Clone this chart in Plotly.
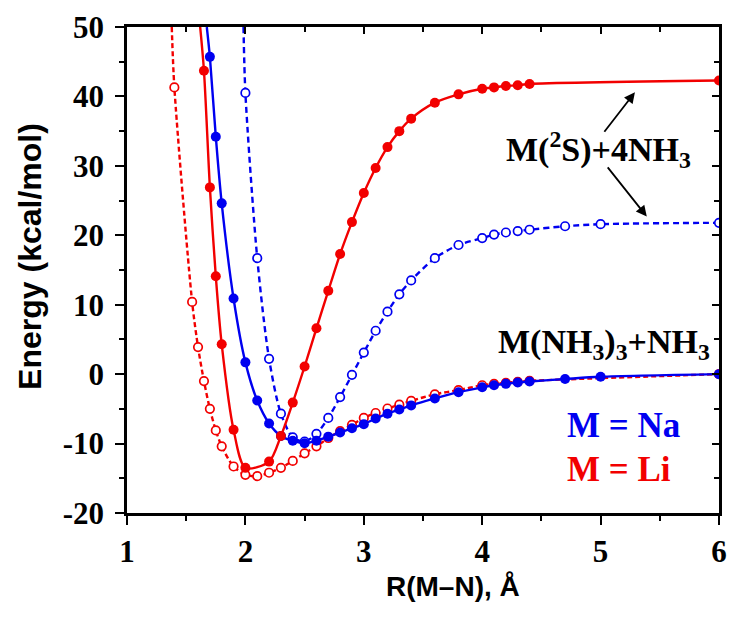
import plotly.graph_objects as go

# ---------------- data ----------------
# Li, solid line / filled markers  -> M(2S)+4NH3 (~42)
li_s_x = [1.65, 1.7, 1.75, 1.8, 1.9, 2.0, 2.2, 2.3, 2.4, 2.5, 2.6, 2.7, 2.8, 2.9,
          3.0, 3.1, 3.2, 3.3, 3.4, 3.6, 3.8, 4.0, 4.1, 4.2, 4.3, 4.4, 6.0]
li_s_y = [43.7, 26.9, 14.1, 4.3, -8.0, -13.5, -12.6, -8.9, -4.1, 1.1, 6.6, 12.0, 17.3, 21.9,
          26.1, 29.7, 32.7, 35.0, 36.8, 39.1, 40.3, 41.1, 41.3, 41.5, 41.6, 41.8, 42.3]

# Li, dashed line / open markers -> M(NH3)3+NH3 (0)
li_d_x = [1.4, 1.55, 1.6, 1.65, 1.7, 1.75, 1.8, 1.9, 2.0, 2.1, 2.2, 2.3, 2.4, 2.5, 2.6,
          2.7, 2.8, 2.9, 3.0, 3.1, 3.2, 3.3, 3.4, 3.6, 3.8, 4.0, 4.1, 4.2, 4.3, 4.4, 6.0]
li_d_y = [41.3, 10.4, 3.9, -1.0, -5.0, -8.1, -10.4, -13.3, -14.5, -14.7, -14.2, -13.5, -12.5,
          -11.4, -10.4, -9.2, -8.2, -7.3, -6.3, -5.6, -4.95, -4.4, -3.85, -2.9, -2.3, -1.6,
          -1.4, -1.25, -1.1, -0.97, 0.0]

# Na, solid line / filled markers -> M(NH3)3+NH3 (0)
na_s_x = [1.7, 1.75, 1.8, 1.9, 2.0, 2.1, 2.2, 2.3, 2.4, 2.5, 2.6, 2.7, 2.8, 2.9, 3.0,
          3.1, 3.2, 3.3, 3.4, 3.6, 3.8, 4.0, 4.1, 4.2, 4.3, 4.4, 4.7, 5.0, 6.0]
na_s_y = [45.7, 34.2, 24.6, 10.9, 1.7, -3.8, -7.1, -8.9, -9.6, -9.95, -9.6, -9.0, -8.4, -7.8,
          -7.2, -6.4, -5.7, -5.1, -4.5, -3.5, -2.6, -1.9, -1.6, -1.4, -1.2, -1.05, -0.7, -0.38, 0.0]

# Na, dashed line / open markers -> M(2S)+4NH3 (~22)
na_d_x = [2.0, 2.1, 2.2, 2.3, 2.4, 2.5, 2.6, 2.7, 2.8, 2.9, 3.0, 3.1, 3.2, 3.3, 3.4,
          3.6, 3.8, 4.0, 4.1, 4.2, 4.3, 4.4, 4.7, 5.0, 6.0]
na_d_y = [40.5, 16.7, 2.2, -5.7, -9.1, -9.7, -8.6, -6.3, -3.3, -0.1, 3.1, 6.25, 9.0, 11.5,
          13.5, 16.7, 18.6, 19.6, 20.1, 20.4, 20.6, 20.8, 21.3, 21.6, 21.8]

# where each curve leaves the frame at the top (E = 50)
top_cross = {"li_s": 1.618, "li_d": 1.378, "na_s": 1.674, "na_d": 1.984}
Y_TOP = 50

x_ticks = [1, 2, 3, 4, 5, 6]
y_ticks = [-20, -10, 0, 10, 20, 30, 40, 50]

RED = "#f20000"
BLUE = "#0000f0"
SERIF = "Liberation Serif"
SANS = "Liberation Sans"

fig = go.Figure()


def add_series(key, xs, ys, color, filled, dash):
    fig.add_trace(go.Scatter(
        x=[top_cross[key]] + xs, y=[Y_TOP] + ys, mode="lines",
        line=dict(color=color, width=2.4, dash=dash, shape="spline", smoothing=0.8),
        showlegend=False, hoverinfo="skip"))
    if filled:
        mk = dict(symbol="circle", size=10, color=color, line=dict(color=color, width=0))
    else:
        mk = dict(symbol="circle", size=8.5, color="white", line=dict(color=color, width=1.7))
    fig.add_trace(go.Scatter(x=xs, y=ys, mode="markers", marker=mk,
                             showlegend=False, hoverinfo="skip"))


add_series("li_d", li_d_x, li_d_y, RED, False, "5px,3px")
add_series("na_d", na_d_x, na_d_y, BLUE, False, "6px,4px")
add_series("na_s", na_s_x, na_s_y, BLUE, True, "solid")
add_series("li_s", li_s_x, li_s_y, RED, True, "solid")

# dummy trace so the mirrored (inside-tick) axes get drawn
fig.add_trace(go.Scatter(x=[None], y=[None], xaxis="x2", yaxis="y2",
                         showlegend=False, hoverinfo="skip"))

tickfont = dict(family=SERIF, size=31, color="black", weight="bold")

fig.update_layout(
    width=730, height=618,
    margin=dict(l=127, r=11, t=27, b=105, autoexpand=False),
    paper_bgcolor="white", plot_bgcolor="white",
    xaxis=dict(range=[1, 6], tickvals=x_ticks, ticktext=[str(v) for v in x_ticks],
               automargin=False,
               showline=True, linecolor="black", linewidth=2.5, mirror=True,
               ticks="outside", ticklen=9, tickwidth=2, tickcolor="black",
               minor=dict(dtick=0.5, tick0=1, ticks="outside", ticklen=5, tickwidth=2,
                          tickcolor="black"),
               showgrid=False, zeroline=False, tickfont=tickfont),
    yaxis=dict(range=[-20, 50], tickvals=y_ticks, ticktext=[str(v) for v in y_ticks],
               automargin=False, ticklabelstandoff=5,
               showline=True, linecolor="black", linewidth=2.5, mirror=True,
               ticks="outside", ticklen=9, tickwidth=2, tickcolor="black",
               minor=dict(dtick=5, tick0=0, ticks="outside", ticklen=5, tickwidth=2,
                          tickcolor="black"),
               showgrid=False, zeroline=False, tickfont=tickfont),
    xaxis2=dict(range=[1, 6], overlaying="x", side="top", anchor="y", automargin=False,
                tickvals=x_ticks, showticklabels=False, showline=False,
                ticks="inside", ticklen=7, tickwidth=2, tickcolor="black",
                minor=dict(dtick=0.5, tick0=1, ticks="inside", ticklen=5, tickwidth=2,
                           tickcolor="black"),
                showgrid=False, zeroline=False),
    yaxis2=dict(range=[-20, 50], overlaying="y", side="right", anchor="x", automargin=False,
                tickvals=y_ticks, showticklabels=False, showline=False,
                ticks="inside", ticklen=7, tickwidth=2, tickcolor="black",
                minor=dict(dtick=5, tick0=0, ticks="inside", ticklen=5, tickwidth=2,
                           tickcolor="black"),
                showgrid=False, zeroline=False),
)

ann_font = dict(family=SERIF, size=34, color="black")
annotations = [
    # axis titles
    dict(text="<b>Energy (kcal/mol)</b>", xref="paper", yref="paper", x=-0.163, y=0.528,
         xanchor="center", yanchor="middle", textangle=-90, showarrow=False,
         font=dict(family=SANS, size=32, color="black")),
    dict(text="<b>R(M\u2013N), \u00c5</b>", xref="paper", yref="paper", x=0.55, y=-0.152,
         xanchor="center", yanchor="middle", showarrow=False,
         font=dict(family=SANS, size=28, color="black")),
    # labels
    dict(text="<b>M(<sup>2</sup>S)+4NH<sub>3</sub></b>", x=4.18, y=32.4, xref="x", yref="y",
         xanchor="left", yanchor="middle", showarrow=False, font=ann_font),
    dict(text="<b>M(NH<sub>3</sub>)<sub>3</sub>+NH<sub>3</sub></b>", x=4.12, y=4.3,
         xref="x", yref="y", xanchor="left", yanchor="middle", showarrow=False, font=ann_font),
    dict(text="<b>M = Na</b>", x=4.70, y=-7.4, xref="x", yref="y", xanchor="left",
         yanchor="middle", showarrow=False,
         font=dict(family=SERIF, size=35, color=BLUE)),
    dict(text="<b>M = Li</b>", x=4.70, y=-13.7, xref="x", yref="y", xanchor="left",
         yanchor="middle", showarrow=False,
         font=dict(family=SERIF, size=35, color=RED)),
    # arrows
    dict(text="", x=5.29, y=40.6, ax=5.022, ay=34.7, xref="x", yref="y", axref="x", ayref="y",
         showarrow=True, arrowhead=2, arrowsize=1.2, arrowwidth=1.8, arrowcolor="black"),
    dict(text="", x=5.39, y=22.7, ax=5.05, ay=30.0, xref="x", yref="y", axref="x", ayref="y",
         showarrow=True, arrowhead=2, arrowsize=1.2, arrowwidth=1.8, arrowcolor="black"),
]
fig.update_layout(annotations=annotations)

fig.write_html("out.html", config={"displayModeBar": False},
               post_script="document.body.style.margin='0';")
